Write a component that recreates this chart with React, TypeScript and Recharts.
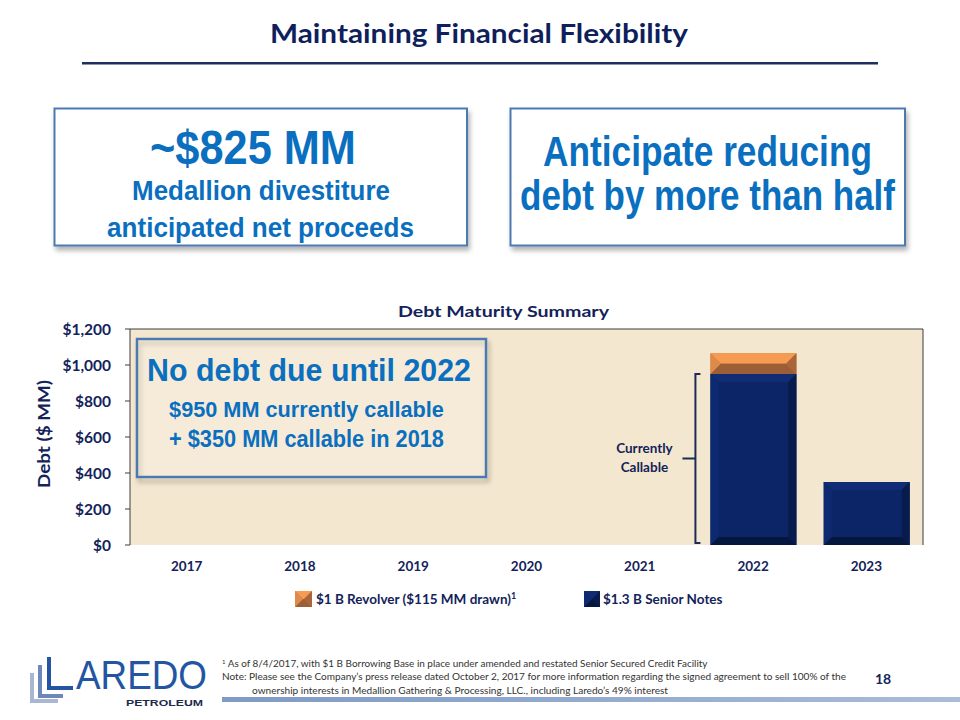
import React, { useLayoutEffect, useRef, useState } from 'react';
import { BarChart, Bar, XAxis, YAxis, CartesianGrid, ReferenceLine, Label } from 'recharts';

// ---------- data ----------
const YEARS = ['2017', '2018', '2019', '2020', '2021', '2022', '2023'];
const SENIOR_NOTES = [0, 0, 0, 0, 0, 950, 350];
const REVOLVER = [0, 0, 0, 0, 0, 115, 0];
const Y_TICKS = [0, 200, 400, 600, 800, 1000, 1200];
const REVOLVER_NAME = '$1 B Revolver ($115 MM drawn)';
const SENIOR_NAME = '$1.3 B Senior Notes';
const CALLABLE_YEAR = '2022';
const CALLABLE_AMOUNT = 950;

const data = YEARS.map((year, i) => ({ year, senior: SENIOR_NOTES[i], revolver: REVOLVER[i] }));

// ---------- styles ----------
const FONT = 'Lato, "Open Sans", sans-serif';
const NARROW = '"Liberation Sans Narrow", "Liberation Sans", Arial, sans-serif';
const NAVY_TEXT = '#13235A';
const TITLE = '#0F1F5C';
const BLUE = '#0A6FBF';
const BOX_STROKE = '#4A7AB2';
const FRAME = '#3C3C3C';
const PLOT_BG = '#F4E7CF';

type Pal = { face: string; top: string; bottom: string; left: string; right: string };
const NAVY: Pal = { face: '#0B2566', top: '#0F2C74', bottom: '#06173F', left: '#0D2A70', right: '#071B4C' };
const ORANGE: Pal = { face: '#C97A40', top: '#F79A52', bottom: '#9C5E36', left: '#DE8A4A', right: '#A9663A' };

function BevelRect({ x, y, w, h, b, pal }: { x: number; y: number; w: number; h: number; b: number; pal: Pal }) {
  const bb = Math.min(b, h / 2, w / 2);
  const x2 = x + w;
  const y2 = y + h;
  return (
    <g>
      <rect x={x} y={y} width={w} height={h} fill={pal.face} />
      <polygon points={`${x},${y} ${x2},${y} ${x2 - bb},${y + bb} ${x + bb},${y + bb}`} fill={pal.top} />
      <polygon points={`${x},${y2} ${x2},${y2} ${x2 - bb},${y2 - bb} ${x + bb},${y2 - bb}`} fill={pal.bottom} />
      <polygon points={`${x},${y} ${x + bb},${y + bb} ${x + bb},${y2 - bb} ${x},${y2}`} fill={pal.left} />
      <polygon points={`${x2},${y} ${x2 - bb},${y + bb} ${x2 - bb},${y2 - bb} ${x2},${y2}`} fill={pal.right} />
    </g>
  );
}

const navyShape = (p: any) =>
  p.height > 0 ? <BevelRect x={p.x} y={p.y} w={p.width} h={p.height} b={8} pal={NAVY} /> : <g />;
const orangeShape = (p: any) =>
  p.height > 0 ? <BevelRect x={p.x} y={p.y} w={p.width} h={p.height} b={10} pal={ORANGE} /> : <g />;

const Bracket = (p: any) => {
  const x = Math.min(p.x1, p.x2) - 1;
  const yTop = Math.min(p.y1, p.y2);
  const yBot = Math.max(p.y1, p.y2) - 2;
  const yMid = (yTop + yBot) / 2;
  return (
    <g>
      <path d={`M${x + 5},${yTop} H${x} V${yBot} H${x + 5}`} fill="none" stroke="#1E2B55" strokeWidth={2} />
      <path d={`M${x},${yMid} H${x - 13}`} fill="none" stroke="#1E2B55" strokeWidth={2} />
      <text x={x - 51} y={yMid - 6} textAnchor="middle" fontFamily={FONT} fontWeight={700} fontSize={13.5} fill={NAVY_TEXT}>
        Currently
      </text>
      <text x={x - 51} y={yMid + 13} textAnchor="middle" fontFamily={FONT} fontWeight={700} fontSize={13.5} fill={NAVY_TEXT}>
        Callable
      </text>
    </g>
  );
};

const renderYLabel = (props: any) => {
  const vb = props.viewBox || { x: 25, y: 329, width: 105, height: 216 };
  const cx = vb.x + 18;
  const cy = vb.y + vb.height / 2 - 3;
  return (
    <text
      x={cx}
      y={cy}
      transform={`rotate(-90 ${cx} ${cy})`}
      textAnchor="middle"
      dominantBaseline="central"
      fontFamily={FONT}
      fontWeight={700}
      fontSize={17}
      fill={NAVY_TEXT}
      textLength={108}
      lengthAdjust="spacingAndGlyphs"
    >
      Debt ($ MM)
    </text>
  );
};

const fmt = (v: number) => `$${v.toLocaleString('en-US')}`;

// text measured once and squeezed horizontally to a target width (keeps a true bounding box)
function FitText(props: any) {
  const { x, y, w, size, children, weight = 700, family = NARROW, fill = BLUE, anchor = 'middle' } = props;
  const ref = useRef<SVGTextElement>(null);
  const [sx, setSx] = useState(1);
  useLayoutEffect(() => {
    const el = ref.current;
    if (el) {
      const len = el.getComputedTextLength();
      if (len > 0) setSx(w / len);
    }
  }, [w, size, family]);
  return (
    <text
      ref={ref}
      x={0}
      y={0}
      transform={`translate(${x},${y}) scale(${sx},1)`}
      textAnchor={anchor}
      fontFamily={family}
      fontWeight={weight}
      fontSize={size}
      fill={fill}
    >
      {children}
    </text>
  );
}

function CText(props: any) {
  const { x, y, w, size, children, weight = 700, family = NARROW, fill = BLUE, anchor = 'middle' } = props;
  return (
    <text
      x={x}
      y={y}
      textAnchor={anchor}
      fontFamily={family}
      fontWeight={weight}
      fontSize={size}
      fill={fill}
      textLength={w}
      lengthAdjust="spacingAndGlyphs"
    >
      {children}
    </text>
  );
}

export default function App() {
  return (
    <div style={{ position: 'absolute', left: 0, top: 0, width: 960, height: 720, background: '#fff', overflow: 'hidden' }}>
      <BarChart width={960} height={720} data={data} margin={{ top: 328, right: 35, bottom: 135, left: 25 }} barSize={86}>
        <CartesianGrid horizontal={false} vertical={false} fill={PLOT_BG} />
        <XAxis
          dataKey="year"
          interval={0}
          tickLine={false}
          axisLine={false}
          tickSize={0}
          tickMargin={16}
          height={40}
          tick={{ fill: NAVY_TEXT, fontSize: 13.5, fontWeight: 700, fontFamily: FONT }}
        />
        <XAxis xAxisId="top" orientation="top" dataKey="year" tick={false} tickLine={false} axisLine={{ stroke: FRAME, strokeWidth: 1 }} height={1} />
        <YAxis
          domain={[0, 1200]}
          ticks={Y_TICKS}
          interval={0}
          tickFormatter={fmt}
          width={105}
          tickSize={5}
          tickMargin={14}
          tickLine={{ stroke: FRAME }}
          axisLine={{ stroke: FRAME }}
          tick={{ fill: NAVY_TEXT, fontSize: 15.5, fontWeight: 700, fontFamily: FONT }}
        >
          <Label content={renderYLabel} />
        </YAxis>
        <YAxis yAxisId="right" orientation="right" domain={[0, 1200]} tick={false} tickLine={false} axisLine={{ stroke: FRAME }} width={2} />
        <Bar dataKey="senior" name={SENIOR_NAME} stackId="d" shape={navyShape} isAnimationActive={false} />
        <Bar dataKey="revolver" name={REVOLVER_NAME} stackId="d" shape={orangeShape} isAnimationActive={false} />
        <ReferenceLine
          segment={[{ x: CALLABLE_YEAR, y: 0 }, { x: CALLABLE_YEAR, y: CALLABLE_AMOUNT }]}
          position="start"
          ifOverflow="visible"
          shape={Bracket}
        />
      </BarChart>

      <svg width={960} height={720} style={{ position: 'absolute', left: 0, top: 0, pointerEvents: 'none' }}>
        <defs>
          <filter id="sh" x="-10%" y="-10%" width="125%" height="130%">
            <feDropShadow dx="2" dy="4" stdDeviation="2.5" floodColor="#000" floodOpacity="0.3" />
          </filter>
          <linearGradient id="bar" x1="0" x2="1" y1="0" y2="0">
            <stop offset="0" stopColor="#7F9AC4" />
            <stop offset="1" stopColor="#A9BCD8" />
          </linearGradient>
        </defs>

        {/* slide title */}
        <CText x={479} y={43} w={418} size={26} family={FONT} fill={TITLE}>Maintaining Financial Flexibility</CText>
        <rect x={82} y={62} width={796} height={2.5} fill="#1F2F5E" />

        {/* top boxes */}
        <rect x={54.5} y={108.5} width={412.5} height={137} fill="#fff" stroke={BOX_STROKE} strokeWidth={2} filter="url(#sh)" />
        <rect x={510.5} y={108.5} width={394.5} height={137} fill="#fff" stroke={BOX_STROKE} strokeWidth={2} filter="url(#sh)" />
        <FitText x={253} y={164} w={206} size={49}>~$825 MM</FitText>
        <FitText x={261} y={200} w={258} size={28}>Medallion divestiture</FitText>
        <FitText x={260.5} y={237} w={307} size={28}>anticipated net proceeds</FitText>
        <FitText x={707.5} y={166} w={329} size={43}>Anticipate reducing</FitText>
        <FitText x={707.5} y={210} w={375} size={43}>debt by more than half</FitText>

        {/* chart title */}
        <CText x={503.5} y={317} w={211} size={16} family={FONT} fill={NAVY_TEXT}>Debt Maturity Summary</CText>

        {/* callout inside plot */}
        <rect x={137} y={339} width={349} height={138} fill="none" stroke={BOX_STROKE} strokeWidth={2.5} filter="url(#sh)" />
        <rect x={138.5} y={340.5} width={346} height={135} fill="rgba(250,244,232,0.35)" />
        <FitText x={309} y={381} w={324} size={32}>No debt due until 2022</FitText>
        <FitText x={306.5} y={417} w={275} size={23}>$950 MM currently callable</FitText>
        <FitText x={306.5} y={447} w={275} size={23}>+ $350 MM callable in 2018</FitText>

        {/* legend */}
        <BevelRect x={295} y={591} w={17} h={16} b={8.5} pal={ORANGE} />
        <text x={316} y={604} fontFamily={FONT} fontWeight={700} fontSize={13.5} fill={NAVY_TEXT}>
          {REVOLVER_NAME}
          <tspan fontSize={9} dy={-5}>1</tspan>
        </text>
        <BevelRect x={584} y={591} w={16} h={16} b={8} pal={NAVY} />
        <text x={603} y={604} fontFamily={FONT} fontWeight={700} fontSize={13.5} fill={NAVY_TEXT}>
          {SENIOR_NAME}
        </text>

        {/* logo */}
        <path d="M30,673 V703 H58 V699 H34 V673 Z" fill="#A9B7D5" />
        <path d="M38,665 V698 H63 V694 H42 V665 Z" fill="#6E87BB" />
        <path d="M47,657 V690 H73 V686 H51 V657 Z" fill="#2355A3" />
        <FitText x={76} y={689} w={131} size={41} weight={400} family={NARROW} fill="#2355A3" anchor="start">AREDO</FitText>
        <CText x={126} y={706} w={77} size={9} weight={700} family={NARROW} fill="#1E2A4A" anchor="start">PETROLEUM</CText>

        {/* footnotes */}
        <text x={222} y={667} fontFamily={FONT} fontSize={9} fill="#333">
          <tspan fontSize={6} dy={-3}>1</tspan>
          <tspan dy={3} textLength={482} lengthAdjust="spacingAndGlyphs"> As of 8/4/2017, with $1 B Borrowing Base in place under amended and restated Senior Secured Credit Facility</tspan>
        </text>
        <CText x={222} y={680} w={624} size={9} weight={400} family={FONT} fill="#333" anchor="start">
          Note: Please see the Company’s press release dated October 2, 2017 for more information regarding the signed agreement to sell 100% of the
        </CText>
        <CText x={252} y={694} w={416} size={9} weight={400} family={FONT} fill="#333" anchor="start">
          ownership interests in Medallion Gathering &amp; Processing, LLC., including Laredo’s 49% interest
        </CText>
        <text x={875} y={684} fontFamily={FONT} fontWeight={700} fontSize={14} fill={NAVY_TEXT}>18</text>
        <rect x={222} y={697} width={738} height={5} fill="url(#bar)" />
      </svg>
    </div>
  );
}
